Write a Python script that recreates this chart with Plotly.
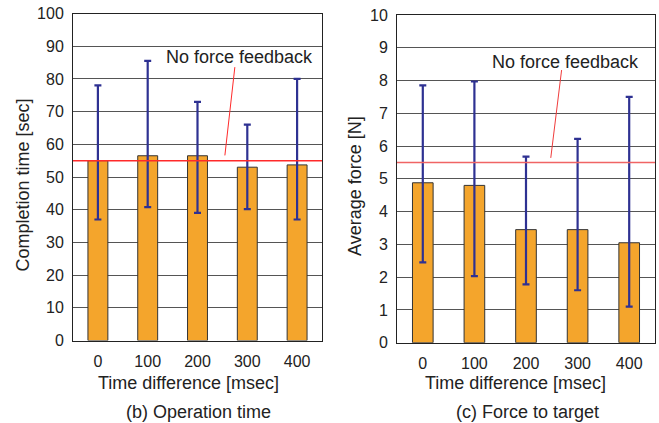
import plotly.graph_objects as go

categories = ["0", "100", "200", "300", "400"]

# (b) Operation time
time_mean = [55.0, 56.5, 56.5, 53.0, 53.7]
time_upper = [78.0, 85.5, 73.0, 66.0, 80.0]
time_lower = [37.0, 40.8, 39.0, 40.2, 37.0]
time_nofb = 55.0

# (c) Force to target
force_mean = [4.88, 4.8, 3.45, 3.45, 3.05]
force_upper = [7.85, 7.97, 5.68, 6.22, 7.5]
force_lower = [2.45, 2.03, 1.78, 1.6, 1.1]
force_nofb = 5.5

FONT = "Liberation Sans, Arial, sans-serif"
TXT = "#222222"
BAR = "#F4A52C"
ERR = "#2E3192"

fig = go.Figure()

def add_bars(mean, up, lo, xa, ya):
    fig.add_trace(go.Bar(
        x=categories, y=mean, xaxis=xa, yaxis=ya, width=0.4,
        marker=dict(color=BAR, line=dict(color="#333333", width=1)),
        error_y=dict(type="data", symmetric=False,
                     array=[u - m for u, m in zip(up, mean)],
                     arrayminus=[m - l for m, l in zip(mean, lo)],
                     color=ERR, thickness=2.2, width=3.5),
        showlegend=False, hoverinfo="skip"))

add_bars(time_mean, time_upper, time_lower, "x", "y")
add_bars(force_mean, force_upper, force_lower, "x2", "y2")

axis_common = dict(showline=True, linecolor="#222222", linewidth=1, mirror=True,
                   automargin=False, zeroline=False,
                   tickfont=dict(family=FONT, size=16, color=TXT))

fig.update_layout(
    template="none",
    width=659, height=423, margin=dict(l=0, r=0, t=0, b=0, autoexpand=False),
    paper_bgcolor="white", plot_bgcolor="white",
    font=dict(family=FONT, color=TXT),
    xaxis=dict(domain=[73/659, 322/659], anchor="y", type="category",
               range=[-0.5, 4.5], showgrid=False, ticks="", ticklabelstandoff=6,
               **axis_common),
    yaxis=dict(domain=[1-340.5/423, 1-13.5/423], anchor="x", range=[0, 100],
               dtick=10, showgrid=True, gridcolor="#555555", gridwidth=1,
               ticks="", ticklabelstandoff=5, **axis_common),
    xaxis2=dict(domain=[397/659, 655/659], anchor="y2", type="category",
                range=[-0.5, 4.5], showgrid=False, ticks="", ticklabelstandoff=6,
                **axis_common),
    yaxis2=dict(domain=[1-342.7/423, 1-15/423], anchor="x2", range=[0, 10],
                dtick=1, showgrid=True, gridcolor="#555555", gridwidth=1,
                ticks="", ticklabelstandoff=5, **axis_common),
)

# reference lines
fig.add_shape(type="line", xref="x domain", yref="y", x0=0, x1=1,
              y0=time_nofb, y1=time_nofb, line=dict(color="#ff2a2a", width=1.5))
fig.add_shape(type="line", xref="x2 domain", yref="y2", x0=0, x1=1,
              y0=force_nofb, y1=force_nofb, line=dict(color="#f06464", width=1.5))

# pointer lines
fig.add_shape(type="line", xref="x", yref="y", x0=2.55, y0=56.6, x1=2.75, y1=83.6,
              line=dict(color="#ff2a2a", width=1))
fig.add_shape(type="line", xref="x2", yref="y2", x0=2.48, y0=5.64, x1=2.69, y1=8.32,
              line=dict(color="#f03c3c", width=1))

fig.add_annotation(x=2.85, y=86.8, xref="x", yref="y", text="No force feedback",
                   xanchor="center", yanchor="middle",
                   showarrow=False, font=dict(family=FONT, size=18, color=TXT))
fig.add_annotation(x=2.77, y=8.57, xref="x2", yref="y2", text="No force feedback",
                   xanchor="center", yanchor="middle",
                   showarrow=False, font=dict(family=FONT, size=18, color=TXT))

def paper_text(xp, yp, text, angle=0, size=18):
    fig.add_annotation(x=xp/659, y=1-yp/423, xref="paper", yref="paper",
                       text=text, textangle=angle, showarrow=False,
                       xanchor="center", yanchor="middle",
                       font=dict(family=FONT, size=size, color=TXT))

# axis titles and captions
paper_text(22, 185.5, "Completion time [sec]", angle=-90)
paper_text(355, 186, "Average force [N]", angle=-90)
paper_text(188, 383, "Time difference [msec]")
paper_text(515, 383, "Time difference [msec]")
paper_text(198, 411.5, "(b) Operation time")
paper_text(527, 411.5, "(c) Force to target")

fig.write_html("out.html", config={"displayModeBar": False},
               post_script="document.body.style.margin='0';document.body.style.padding='0';")
